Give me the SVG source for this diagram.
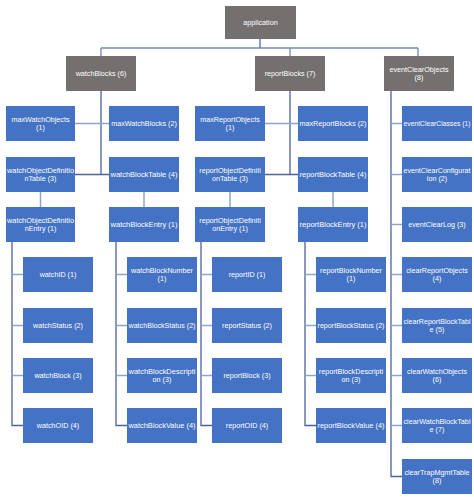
<svg xmlns="http://www.w3.org/2000/svg" width="474" height="497" viewBox="0 0 474 497">
  <style>
    .g { fill: #757070; }
    .b { fill: #4472c4; }
    .t { fill: #ffffff; font-family: "Liberation Sans", Arial, sans-serif; font-size: 7.2px; text-anchor: middle; }
    .trunk { stroke: #4a6599; stroke-width: 1.3; fill: none; }
    .bar { stroke: #7189b6; stroke-width: 1.3; fill: none; }
    .stub { stroke: #8fa4c9; stroke-width: 1.5; fill: none; }
  </style>
  <rect width="474" height="497" fill="#ffffff"/>

  <!-- connectors -->
  <g id="connectors">
    <!-- application to its three children -->
    <path class="trunk" d="M260,39 V48"/>
    <path class="bar" d="M101,48 H418 M101,48 V56 M290,48 V56 M418,48 V56"/>
    <!-- watchBlocks branch -->
    <path class="trunk" d="M101,91 V174.5 M75,174.5 H109"/>
    <path class="stub" d="M75,123.5 H109"/>
    <!-- reportBlocks branch -->
    <path class="trunk" d="M290,91 V174.5 M265,174.5 H298"/>
    <path class="stub" d="M265,123.5 H298"/>
    <!-- eventClearObjects branch -->
    <path class="trunk" d="M391,91 V476.5 H402"/>
    <path class="stub" d="M391,123.5 H402 M391,174.5 H402 M391,224.5 H402 M391,274.5 H402 M391,325.5 H402 M391,375.5 H402 M391,425.5 H402"/>
    <!-- table to entry -->
    <path class="stub" d="M40.5,192 V207 M144,192 V207 M230,192 V207 M333,192 V207"/>
    <!-- entry to columns -->
    <path class="trunk" d="M12,242 V425.5 H23 M116,242 V425.5 H127 M201,242 V425.5 H212 M305,242 V425.5 H316"/>
    <path class="stub" d="M12,274.5 H23 M12,325.5 H23 M12,375.5 H23
                          M116,274.5 H127 M116,325.5 H127 M116,375.5 H127
                          M201,274.5 H212 M201,325.5 H212 M201,375.5 H212
                          M305,274.5 H316 M305,325.5 H316 M305,375.5 H316"/>
  </g>

  <!-- top level -->
  <g id="application"><rect class="g" x="225" y="6" width="71" height="33"/><text class="t" x="260.5" y="25.2">application</text></g>
  <g id="watchBlocks"><rect class="g" x="66" y="56" width="70" height="35"/><text class="t" x="101" y="76.2">watchBlocks (6)</text></g>
  <g id="reportBlocks"><rect class="g" x="255" y="56" width="70" height="35"/><text class="t" x="290" y="76.2">reportBlocks (7)</text></g>
  <g id="eventClearObjects"><rect class="g" x="384" y="56" width="70" height="35"/><text class="t" x="419" y="71.7">eventClearObjects</text><text class="t" x="419" y="80.3">(8)</text></g>

  <!-- watch object column -->
  <g id="maxWatchObjects"><rect class="b" x="6" y="106" width="69" height="35"/><text class="t" x="40.5" y="121.7">maxWatchObjects</text><text class="t" x="40.5" y="130.3">(1)</text></g>
  <g id="watchObjectDefinitionTable"><rect class="b" x="6" y="157" width="69" height="35"/><text class="t" x="40.5" y="172.7" textLength="67" lengthAdjust="spacingAndGlyphs">watchObjectDefinitio</text><text class="t" x="40.5" y="181.3">nTable (3)</text></g>
  <g id="watchObjectDefinitionEntry"><rect class="b" x="6" y="207" width="69" height="35"/><text class="t" x="40.5" y="222.7" textLength="67" lengthAdjust="spacingAndGlyphs">watchObjectDefinitio</text><text class="t" x="40.5" y="231.3">nEntry (1)</text></g>
  <g id="watchID"><rect class="b" x="23" y="257" width="70" height="35"/><text class="t" x="58" y="277.2">watchID (1)</text></g>
  <g id="watchStatus"><rect class="b" x="23" y="308" width="70" height="35"/><text class="t" x="58" y="328.2">watchStatus (2)</text></g>
  <g id="watchBlock"><rect class="b" x="23" y="358" width="70" height="35"/><text class="t" x="58" y="378.2">watchBlock (3)</text></g>
  <g id="watchOID"><rect class="b" x="23" y="408" width="70" height="35"/><text class="t" x="58" y="428.2">watchOID (4)</text></g>

  <!-- watch block column -->
  <g id="maxWatchBlocks"><rect class="b" x="109" y="106" width="70" height="35"/><text class="t" x="144" y="126.2">maxWatchBlocks (2)</text></g>
  <g id="watchBlockTable"><rect class="b" x="109" y="157" width="70" height="35"/><text class="t" x="144" y="177.2" textLength="67" lengthAdjust="spacingAndGlyphs">watchBlockTable (4)</text></g>
  <g id="watchBlockEntry"><rect class="b" x="109" y="207" width="70" height="35"/><text class="t" x="144" y="227.2" textLength="67" lengthAdjust="spacingAndGlyphs">watchBlockEntry (1)</text></g>
  <g id="watchBlockNumber"><rect class="b" x="127" y="257" width="70" height="35"/><text class="t" x="162" y="272.7">watchBlockNumber</text><text class="t" x="162" y="281.3">(1)</text></g>
  <g id="watchBlockStatus"><rect class="b" x="127" y="308" width="70" height="35"/><text class="t" x="162" y="328.2" textLength="67" lengthAdjust="spacingAndGlyphs">watchBlockStatus (2)</text></g>
  <g id="watchBlockDescription"><rect class="b" x="127" y="358" width="70" height="35"/><text class="t" x="162" y="373.7" textLength="67" lengthAdjust="spacingAndGlyphs">watchBlockDescripti</text><text class="t" x="162" y="382.3">on (3)</text></g>
  <g id="watchBlockValue"><rect class="b" x="127" y="408" width="70" height="35"/><text class="t" x="162" y="428.2" textLength="67" lengthAdjust="spacingAndGlyphs">watchBlockValue (4)</text></g>

  <!-- report object column -->
  <g id="maxReportObjects"><rect class="b" x="195" y="106" width="70" height="35"/><text class="t" x="230" y="121.7">maxReportObjects</text><text class="t" x="230" y="130.3">(1)</text></g>
  <g id="reportObjectDefinitionTable"><rect class="b" x="195" y="157" width="70" height="35"/><text class="t" x="230" y="172.7">reportObjectDefiniti</text><text class="t" x="230" y="181.3">onTable (3)</text></g>
  <g id="reportObjectDefinitionEntry"><rect class="b" x="195" y="207" width="70" height="35"/><text class="t" x="230" y="222.7">reportObjectDefiniti</text><text class="t" x="230" y="231.3">onEntry (1)</text></g>
  <g id="reportID"><rect class="b" x="212" y="257" width="70" height="35"/><text class="t" x="247" y="277.2">reportID (1)</text></g>
  <g id="reportStatus"><rect class="b" x="212" y="308" width="70" height="35"/><text class="t" x="247" y="328.2">reportStatus (2)</text></g>
  <g id="reportBlock"><rect class="b" x="212" y="358" width="70" height="35"/><text class="t" x="247" y="378.2">reportBlock (3)</text></g>
  <g id="reportOID"><rect class="b" x="212" y="408" width="70" height="35"/><text class="t" x="247" y="428.2">reportOID (4)</text></g>

  <!-- report block column -->
  <g id="maxReportBlocks"><rect class="b" x="298" y="106" width="70" height="35"/><text class="t" x="333" y="126.2" textLength="67" lengthAdjust="spacingAndGlyphs">maxReportBlocks (2)</text></g>
  <g id="reportBlockTable"><rect class="b" x="298" y="157" width="70" height="35"/><text class="t" x="333" y="177.2" textLength="67" lengthAdjust="spacingAndGlyphs">reportBlockTable (4)</text></g>
  <g id="reportBlockEntry"><rect class="b" x="298" y="207" width="70" height="35"/><text class="t" x="333" y="227.2" textLength="67" lengthAdjust="spacingAndGlyphs">reportBlockEntry (1)</text></g>
  <g id="reportBlockNumber"><rect class="b" x="316" y="257" width="70" height="35"/><text class="t" x="351" y="272.7">reportBlockNumber</text><text class="t" x="351" y="281.3">(1)</text></g>
  <g id="reportBlockStatus"><rect class="b" x="316" y="308" width="70" height="35"/><text class="t" x="351" y="328.2" textLength="67" lengthAdjust="spacingAndGlyphs">reportBlockStatus (2)</text></g>
  <g id="reportBlockDescription"><rect class="b" x="316" y="358" width="70" height="35"/><text class="t" x="351" y="373.7">reportBlockDescripti</text><text class="t" x="351" y="382.3">on (3)</text></g>
  <g id="reportBlockValue"><rect class="b" x="316" y="408" width="70" height="35"/><text class="t" x="351" y="428.2" textLength="67" lengthAdjust="spacingAndGlyphs">reportBlockValue (4)</text></g>

  <!-- event clear column -->
  <g id="eventClearClasses"><rect class="b" x="402" y="106" width="70" height="35"/><text class="t" x="437" y="126.2" textLength="67" lengthAdjust="spacingAndGlyphs">eventClearClasses (1)</text></g>
  <g id="eventClearConfiguration"><rect class="b" x="402" y="157" width="70" height="35"/><text class="t" x="437" y="172.7" textLength="67" lengthAdjust="spacingAndGlyphs">eventClearConfigurat</text><text class="t" x="437" y="181.3">ion (2)</text></g>
  <g id="eventClearLog"><rect class="b" x="402" y="207" width="70" height="35"/><text class="t" x="437" y="227.2">eventClearLog (3)</text></g>
  <g id="clearReportObjects"><rect class="b" x="402" y="257" width="70" height="35"/><text class="t" x="437" y="272.7">clearReportObjects</text><text class="t" x="437" y="281.3">(4)</text></g>
  <g id="clearReportBlockTable"><rect class="b" x="402" y="308" width="70" height="35"/><text class="t" x="437" y="323.7" textLength="67" lengthAdjust="spacingAndGlyphs">clearReportBlockTabl</text><text class="t" x="437" y="332.3">e (5)</text></g>
  <g id="clearWatchObjects"><rect class="b" x="402" y="358" width="70" height="35"/><text class="t" x="437" y="373.7">clearWatchObjects</text><text class="t" x="437" y="382.3">(6)</text></g>
  <g id="clearWatchBlockTable"><rect class="b" x="402" y="408" width="70" height="35"/><text class="t" x="437" y="423.7" textLength="67" lengthAdjust="spacingAndGlyphs">clearWatchBlockTabl</text><text class="t" x="437" y="432.3">e (7)</text></g>
  <g id="clearTrapMgmtTable"><rect class="b" x="402" y="459" width="70" height="35"/><text class="t" x="437" y="474.7">clearTrapMgmtTable</text><text class="t" x="437" y="483.3">(8)</text></g>
</svg>
